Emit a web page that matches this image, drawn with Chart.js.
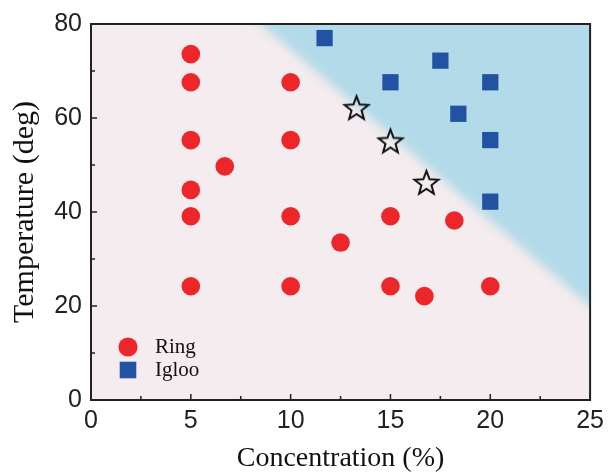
<!DOCTYPE html>
<html><head><meta charset="utf-8">
<script src="https://cdn.jsdelivr.net/npm/chart.js@4"></script>
<style>html,body{margin:0;padding:0;background:#fff;}</style>
</head><body>
<canvas id="c" width="610" height="473"></canvas>
<script>
// ---- data ----
const ringX = [5, 5, 5, 5, 5, 5, 6.7, 10, 10, 10, 10, 12.5, 15, 15, 16.7, 18.2, 20];
const ringY = [73.6, 67.6, 55.3, 44.7, 39.1, 24.2, 49.7, 67.6, 55.3, 39.1, 24.2, 33.5, 39.1, 24.2, 22.1, 38.2, 24.2];
const iglooX = [11.7, 17.5, 15, 20, 18.4, 20, 20];
const iglooY = [77.0, 72.2, 67.6, 67.6, 60.9, 55.3, 42.2];
const starX = [13.3, 15, 16.8];
const starY = [62.2, 55.1, 46.3];
const boundaryX = [8.5, 25];
const boundaryY = [80, 20];
const xTicks = [0, 5, 10, 15, 20, 25];
const yTicks = [0, 20, 40, 60, 80];
const seriesNames = ['Ring', 'Igloo'];

const RED = '#ed262a', BLUE = '#2253a3', PINK = '#f4ecee', SKY = '#b2dae9', INK = '#222222';
const SANS = "'Liberation Sans', Arial, sans-serif";
const SERIF = "'Liberation Serif', 'Times New Roman', serif";

function makeStar(R, r) {
  const s = Math.ceil(2 * R + 6);
  const c = document.createElement('canvas');
  c.width = s; c.height = s;
  const g = c.getContext('2d');
  g.translate(s / 2, s / 2 + R * 0.09);
  g.beginPath();
  for (let k = 0; k < 10; k++) {
    const rad = k % 2 === 0 ? R : r;
    const ang = -Math.PI / 2 + k * Math.PI / 5;
    const px = rad * Math.cos(ang), py = rad * Math.sin(ang);
    if (k === 0) g.moveTo(px, py); else g.lineTo(px, py);
  }
  g.closePath();
  g.lineWidth = 2;
  g.lineJoin = 'miter';
  g.strokeStyle = '#111';
  g.stroke();
  return c;
}
const starImg = makeStar(12.5, 5.3);

const bgPlugin = {
  id: 'bg',
  beforeDraw(chart) {
    const { ctx, chartArea: a, scales: { x, y } } = chart;
    ctx.save();
    ctx.fillStyle = PINK;
    ctx.fillRect(a.left, a.top, a.width, a.height);
    ctx.beginPath(); ctx.rect(a.left, a.top, a.width, a.height); ctx.clip();
    const x1 = x.getPixelForValue(boundaryX[0]), y1 = y.getPixelForValue(boundaryY[0]);
    const x2 = x.getPixelForValue(boundaryX[1]), y2 = y.getPixelForValue(boundaryY[1]);
    const dx = x2 - x1, dy = y2 - y1, len = Math.hypot(dx, dy);
    const ux = dx / len, uy = dy / len, ext = 80;
    const ax = x1 - ux * ext, ay = y1 - uy * ext, bx = x2 + ux * ext, by = y2 + uy * ext;
    ctx.filter = 'blur(5px)';
    ctx.fillStyle = SKY;
    ctx.beginPath();
    ctx.moveTo(ax, ay); ctx.lineTo(bx, by);
    ctx.lineTo(a.right + ext, by); ctx.lineTo(a.right + ext, a.top - ext);
    ctx.lineTo(ax, a.top - ext); ctx.closePath(); ctx.fill();
    ctx.restore();
  }
};

const framePlugin = {
  id: 'frame',
  afterDraw(chart) {
    const { ctx, chartArea: a, scales: { x, y } } = chart;
    ctx.save();
    ctx.strokeStyle = INK;
    ctx.lineWidth = 1.5;
    ctx.beginPath();
    xTicks.forEach((v, i) => {
      const px = x.getPixelForValue(v);
      ctx.moveTo(px, a.bottom); ctx.lineTo(px, a.bottom - 6);
      if (i < xTicks.length - 1) {
        const pm = x.getPixelForValue((v + xTicks[i + 1]) / 2);
        ctx.moveTo(pm, a.bottom); ctx.lineTo(pm, a.bottom - 4);
      }
    });
    yTicks.forEach((v, i) => {
      const py = y.getPixelForValue(v);
      ctx.moveTo(a.left, py); ctx.lineTo(a.left + 6, py);
      if (i < yTicks.length - 1) {
        const pm = y.getPixelForValue((v + yTicks[i + 1]) / 2);
        ctx.moveTo(a.left, pm); ctx.lineTo(a.left + 4, pm);
      }
    });
    ctx.stroke();
    ctx.lineWidth = 2;
    ctx.strokeRect(a.left, a.top, a.width, a.height);

    // legend (inside plot, bottom-left)
    const lx = a.left + 37, ly = a.bottom - 53;
    const ds = chart.data.datasets;
    ctx.fillStyle = ds[0].backgroundColor;
    ctx.beginPath(); ctx.arc(lx, ly, 9.6, 0, Math.PI * 2); ctx.fill();
    ctx.fillStyle = ds[1].backgroundColor;
    ctx.fillRect(lx - 8.3, ly + 23 - 8.3, 16.6, 16.6);
    ctx.fillStyle = '#111';
    ctx.font = '21px ' + SERIF;
    ctx.textBaseline = 'middle';
    ctx.textAlign = 'left';
    ctx.fillText(seriesNames[0], lx + 27, ly);
    ctx.fillText(seriesNames[1], lx + 27, ly + 23);
    ctx.restore();
  }
};

const toPts = (xs, ys) => xs.map((v, i) => ({ x: v, y: ys[i] }));

new Chart(document.getElementById('c'), {
  type: 'scatter',
  data: {
    datasets: [
      { label: seriesNames[0], data: toPts(ringX, ringY), pointStyle: 'circle', pointRadius: 9.3,
        backgroundColor: RED, borderWidth: 0, pointHoverRadius: 9.3 },
      { label: seriesNames[1], data: toPts(iglooX, iglooY), pointStyle: 'rect', pointRadius: 11.5,
        backgroundColor: BLUE, borderWidth: 0, pointHoverRadius: 11.5 },
      { label: 'Boundary', data: toPts(starX, starY), pointStyle: starImg, pointRadius: 12,
        backgroundColor: 'rgba(0,0,0,0)', borderWidth: 0 }
    ]
  },
  options: {
    responsive: false,
    devicePixelRatio: 1,
    animation: false,
    events: [],
    layout: { padding: { left: 0, right: 15, top: 23, bottom: 0 } },
    plugins: { legend: { display: false }, tooltip: { enabled: false } },
    scales: {
      x: {
        type: 'linear', min: 0, max: 25,
        afterBuildTicks: s => { s.ticks = xTicks.map(v => ({ value: v })); },
        afterFit: s => { s.height = 73; },
        grid: { display: false, drawTicks: false },
        border: { display: false },
        ticks: { color: INK, padding: 6, font: { family: SANS, size: 25 } },
        title: { display: true, text: 'Concentration (%)', color: '#111',
          font: { family: SERIF, size: 28, lineHeight: 1 }, padding: 0 }
      },
      y: {
        type: 'linear', min: 0, max: 80,
        afterBuildTicks: s => { s.ticks = yTicks.map(v => ({ value: v })); },
        afterFit: s => { s.width = 91; },
        grid: { display: false, drawTicks: false },
        border: { display: false },
        ticks: { color: INK, padding: 9, font: { family: SANS, size: 25 } },
        title: { display: true, text: 'Temperature (deg)', color: '#111',
          font: { family: SERIF, size: 30, lineHeight: 1 }, padding: { top: 10, bottom: 0 } }
      }
    }
  },
  plugins: [bgPlugin, framePlugin]
});
</script>
</body></html>
